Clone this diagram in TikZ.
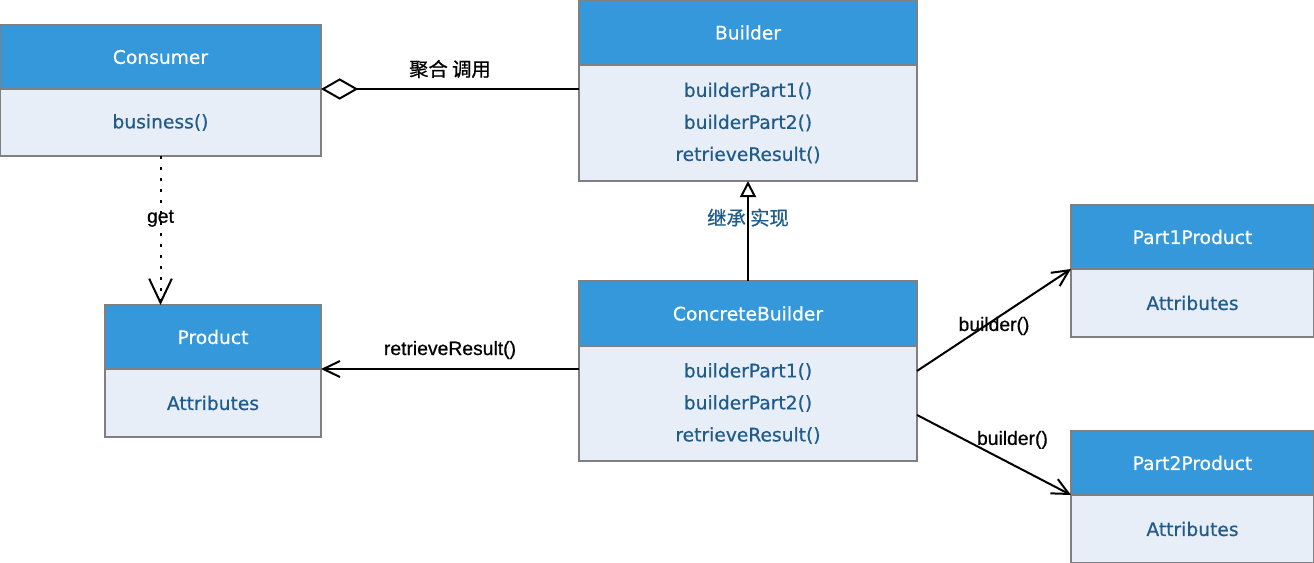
\documentclass[tikz,border=0pt]{standalone}
\usepackage{fontspec}
\setmainfont{DejaVu Sans}
\newfontfamily\classfont{DejaVu Sans}[FakeBold=0.6]
\newfontfamily\labelfont{Liberation Sans}[FakeBold=0.6]
\newfontfamily\cjkfont{Noto Sans CJK SC}[FakeBold=0.8]
\usetikzlibrary{positioning}
\usetikzlibrary{arrows.meta}
\definecolor{headblue}{RGB}{53,152,219}
\definecolor{bodyblue}{RGB}{232,238,248}
\definecolor{textblue}{RGB}{31,92,140}
\definecolor{edgegray}{RGB}{128,128,128}
\tikzset{
  classhead/.style={draw=edgegray, line width=1.5pt, fill=headblue, text=white,
    inner sep=0pt, outer sep=0pt, font=\classfont\fontsize{14}{17}\selectfont},
  classbody/.style={draw=edgegray, line width=1.5pt, fill=bodyblue, text=textblue,
    inner sep=0pt, outer sep=0pt, align=center, font=\classfont\fontsize{14}{24}\selectfont},
  link/.style={line width=1.5pt},
  linklabel/.style={font=\labelfont\fontsize{14.5}{17}\selectfont, text=black},
  cjklabel/.style={font=\cjkfont\fontsize{14.5}{17}\selectfont, text=black},
  openhead/.style={-{Straight Barb[length=12.5pt, width=12pt]}}
}

\begin{document}
\begin{tikzpicture}[x=0.75pt, y=-0.75pt]
    \useasboundingbox (0,0) rectangle (1314,562);

    % We start by placing the classes (title bar, then members below)
    \node [classhead, anchor=north west, minimum width=240.75pt, minimum height=48pt] (consumer) at (0,25) {Consumer};
    \node [classbody, below=0pt of consumer, minimum width=240.75pt, minimum height=50.25pt] (consumerBody) {business()};

    \node [classhead, anchor=north west, minimum width=253.5pt, minimum height=48.75pt] (builder) at (579,0) {Builder};
    \node [classbody, below=0pt of builder, minimum width=253.5pt, minimum height=87pt] (builderBody) {builderPart1()\\builderPart2()\\retrieveResult()};

    \node [classhead, anchor=north west, minimum width=162pt, minimum height=48pt] (product) at (105,305) {Product};
    \node [classbody, below=0pt of product, minimum width=162pt, minimum height=51pt] (productBody) {Attributes};

    \node [classhead, anchor=north west, minimum width=253.5pt, minimum height=48.75pt] (concrete) at (579,281) {ConcreteBuilder};
    \node [classbody, below=0pt of concrete, minimum width=253.5pt, minimum height=86.25pt] (concreteBody) {builderPart1()\\builderPart2()\\retrieveResult()};

    \node [classhead, anchor=north west, minimum width=182.25pt, minimum height=48pt] (partOne) at (1071,205) {Part1Product};
    \node [classbody, below=0pt of partOne, minimum width=182.25pt, minimum height=51pt] (partOneBody) {Attributes};

    \node [classhead, anchor=north west, minimum width=182.25pt, minimum height=48pt] (partTwo) at (1071,431) {Part2Product};
    \node [classbody, below=0pt of partTwo, minimum width=182.25pt, minimum height=51pt] (partTwoBody) {Attributes};

    % Once the classes are placed, connecting them is easy.
    \draw [link, {Diamond[open, length=28pt, width=16pt]}-] (consumerBody.north east)
        -- node [cjklabel, yshift=15pt] {聚合 调用} (consumerBody.north east -| builderBody.west);
    \draw [link, dash pattern=on 2.5pt off 5.75pt, -{Straight Barb[length=18pt, width=17pt]}] (consumerBody.south)
        -- node [linklabel, yshift=9pt] {get} (consumerBody.south |- product.north);
    \draw [link, -{Triangle[open, length=12pt, width=12pt]}] (concrete.north)
        -- node [cjklabel, text=textblue, yshift=10pt] {继承 实现} (builderBody.south);
    \draw [link, openhead] (concreteBody.west |- productBody.north)
        -- node [linklabel, yshift=14.25pt] {retrieveResult()} (productBody.north east);
    \draw [link, openhead] ([yshift=24.4pt]concreteBody.east)
        -- node [linklabel, yshift=-4.5pt] {builder()} (partOneBody.north west);
    \draw [link, openhead] ([yshift=-8.6pt]concreteBody.east)
        -- node [linklabel, pos=0.62, yshift=18.5pt] {builder()} (partTwoBody.north west);
\end{tikzpicture}
\end{document}
